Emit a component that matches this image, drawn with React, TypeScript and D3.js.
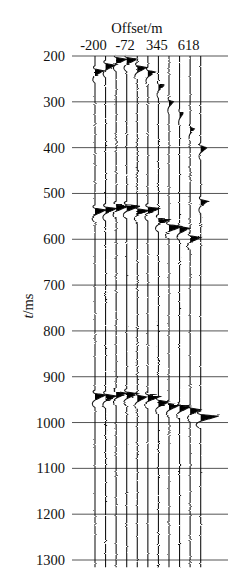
import React from "react";
import * as d3 from "d3";

// ---- data ----
const traceIds = [0, 1, 2, 3, 4, 5, 6, 7, 8, 9, 10];
const offsetTickTraces = [0, 3, 6, 9];
const offsetTickLabels = ["-200", "-72", "345", "618"];
const timeTicks = [200, 300, 400, 500, 600, 700, 800, 900, 1000, 1100, 1200, 1300];

// arrival times (ms) and amplitudes (in trace-spacing units) per trace
const event1Times = [232, 220, 207, 207, 225, 235, 265, 300, 326, 359, 400];
const event1Amps = [0.8, 0.9, 1.0, 1.0, 0.9, 0.7, 0.5, 0.42, 0.32, 0.4, 0.6];
const event2Times = [536, 533, 528, 528, 537, 533, 557, 572, 576, 596, 517];
const event2Amps = [1.05, 1.0, 1.15, 1.25, 1.08, 1.08, 1.08, 1.28, 0.95, 1.0, 0.66];
const event3Times = [940, 942, 936, 937, 944, 943, 955, 962, 966, 972, 986];
const event3Amps = [1.0, 1.0, 1.0, 1.08, 0.9, 1.18, 1.0, 1.0, 1.0, 1.0, 1.7];

const W = 248;
const H = 579;

// wavelet shape (relative to peak time, ms)
function wavelet(tau: number): number {
  let v = 0;
  if (tau >= -3.5 && tau <= 0) v = 1 + tau / 3.5;
  else if (tau > 0 && tau <= 11) v = 1 - tau / 11;
  // side lobes
  if (tau >= -11 && tau < -3.5) {
    const u = (tau + 7.25) / 3.75;
    v += -0.18 * (1 - u * u);
  }
  if (tau > 11 && tau <= 27) {
    const u = (tau - 19) / 8;
    v += -0.25 * (1 - u * u);
  }
  return v;
}

export default function App() {
  const x = d3.scalePoint<number>().domain(traceIds).range([95, 200.7]);
  const y = d3.scaleLinear().domain([200, 1300]).range([56, 560]);
  const spacing = x.step();
  const amp = d3.scaleLinear().domain([0, 1]).range([0, spacing]);

  const events = [
    { times: event1Times, amps: event1Amps },
    { times: event2Times, amps: event2Amps },
    { times: event3Times, amps: event3Amps },
  ];

  const tStart = 200;
  const tEnd = 1316;
  const samples = d3.range(tStart, tEnd + 0.001, 0.5);

  const traces = traceIds.map((id) => {
    const x0 = x(id) as number;
    const pts = samples.map((t) => {
      let d = 0;
      for (const ev of events) {
        d += amp(ev.amps[id]) * wavelet(t - ev.times[id]);
      }
      return { t, d };
    });
    const line = d3
      .line<{ t: number; d: number }>()
      .x((p) => x0 + p.d)
      .y((p) => y(p.t));
    const area = d3
      .area<{ t: number; d: number }>()
      .x0(x0)
      .x1((p) => x0 + Math.max(0, p.d))
      .y((p) => y(p.t));
    return { id, line: line(pts) || "", area: area(pts) || "" };
  });

  const font = "'Liberation Serif', 'Times New Roman', serif";

  return (
    <svg
      width={W}
      height={H}
      style={{ position: "absolute", left: 0, top: 0, background: "#fff" }}
      fontFamily={font}
    >
      <defs>
        <filter id="rough" x="-10%" y="-2%" width="120%" height="104%">
          <feTurbulence type="fractalNoise" baseFrequency="0.04 0.9" numOctaves="2" seed="5" result="n" />
          <feDisplacementMap in="SourceGraphic" in2="n" scale="2.4" xChannelSelector="R" yChannelSelector="G" />
        </filter>
      </defs>
      <rect x={0} y={0} width={W} height={H} fill="#fff" />
      {/* horizontal grid lines */}
      {timeTicks.map((t) => (
        <line key={t} x1={72} x2={228} y1={y(t)} y2={y(t)} stroke="#555" strokeWidth={1} />
      ))}
      {/* y tick labels */}
      {timeTicks.map((t) => (
        <text key={"l" + t} x={65} y={y(t) + 5} textAnchor="end" fontSize={14.5} fill="#111">
          {t}
        </text>
      ))}
      {/* y axis title */}
      <text
        transform={`translate(33,306) rotate(-90)`}
        textAnchor="middle"
        fontSize={14.5}
        fill="#111"
      >
        <tspan fontStyle="italic">t</tspan>/ms
      </text>
      {/* top axis */}
      <text x={137} y={32.5} textAnchor="middle" fontSize={14.5} fill="#111">
        Offset/m
      </text>
      {offsetTickTraces.map((id, i) => (
        <text key={"o" + id} x={(x(id) as number) - 1.5} y={50} textAnchor="middle" fontSize={14.5} fill="#111">
          {offsetTickLabels[i]}
        </text>
      ))}
      {/* traces */}
      <g filter="url(#rough)">
        {traces.map((tr) => (
          <g key={tr.id}>
            <path d={tr.area} fill="#000" stroke="none" />
            <path d={tr.line} fill="none" stroke="#111" strokeWidth={1.05} />
          </g>
        ))}
      </g>
    </svg>
  );
}
